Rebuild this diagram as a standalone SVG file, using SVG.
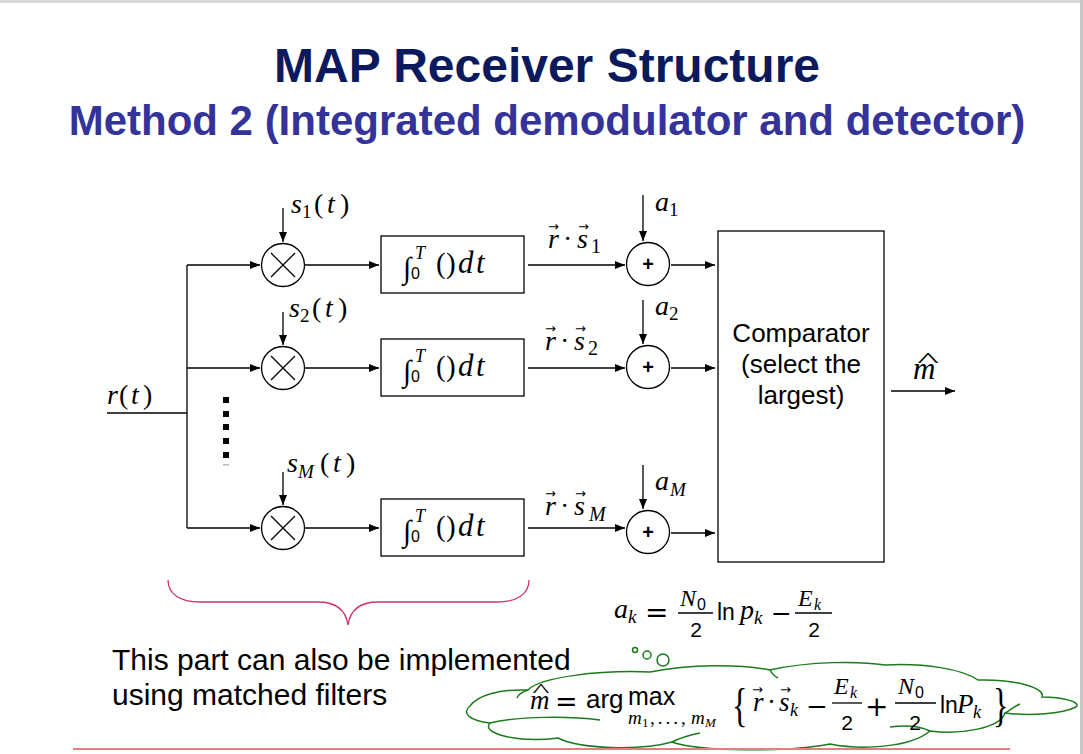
<svg xmlns="http://www.w3.org/2000/svg" width="1083" height="754" viewBox="0 0 1083 754">
  <style>
    .sans{font-family:"Liberation Sans",Arial,sans-serif}
    .it{font-family:"Liberation Serif","Times New Roman",serif;font-style:italic}
    .rm{font-family:"Liberation Serif","Times New Roman",serif;font-style:normal}
    .op{font-family:"DejaVu Serif",serif;font-style:normal}
    .vec{font-family:"DejaVu Sans",sans-serif;font-size:13px}
    .hat{font-family:"Liberation Serif","Times New Roman",serif;text-anchor:middle}
    .ln{stroke:#000;stroke-width:1.3;fill:none}
    .arr{marker-end:url(#ah)}
    .blk{fill:#fff;stroke:#000;stroke-width:1.3}
    .plus{font-family:"Liberation Sans",Arial,sans-serif;font-size:20px;font-weight:bold;text-anchor:middle}
  </style>
  <defs>
    <marker id="ah" viewBox="0 0 10 8" refX="10" refY="4" markerWidth="10" markerHeight="8" markerUnits="userSpaceOnUse" orient="auto">
      <path d="M0,0 L10,4 L0,8 z" fill="#000"/>
    </marker>
  </defs>

  <!-- page -->
  <rect x="0" y="0" width="1083" height="754" fill="#fff"/>
  <rect x="0" y="0" width="1083" height="3" fill="#d9d9d9"/>
  <rect x="1080" y="0" width="3" height="754" fill="#c8c8c8"/>

  <!-- titles -->
  <text class="sans" x="547" y="82" font-size="48" font-weight="bold" fill="#0b1a5c" text-anchor="middle">MAP Receiver Structure</text>
  <text class="sans" x="547" y="135" font-size="42" font-weight="bold" fill="#333399" text-anchor="middle">Method 2 (Integrated demodulator and detector)</text>

  <!-- connectors -->
  <g id="connectors">
    <path class="ln" d="M107,413 H187"/>
    <path class="ln" d="M187,265 V528" stroke="#333"/>
    <path class="ln arr" d="M187,265 H260"/>
    <path class="ln arr" d="M187,368 H260"/>
    <path class="ln arr" d="M187,528 H260"/>
    <path class="ln arr" d="M283,208 V242"/>
    <path class="ln arr" d="M283,312 V345"/>
    <path class="ln arr" d="M283,472 V505"/>
    <path class="ln arr" d="M305,265 H379"/>
    <path class="ln arr" d="M305,368 H379"/>
    <path class="ln arr" d="M305,528 H379"/>
    <path class="ln arr" d="M528,265 H625"/>
    <path class="ln arr" d="M528,368 H625"/>
    <path class="ln arr" d="M528,528 H625"/>
    <path class="ln arr" d="M643,195 V241"/>
    <path class="ln arr" d="M643,300 V344"/>
    <path class="ln arr" d="M643,465 V509"/>
    <path class="ln arr" d="M671,265 H715"/>
    <path class="ln arr" d="M671,368 H715"/>
    <path class="ln arr" d="M671,533 H715"/>
    <path class="ln arr" d="M891,391 H955"/>
  </g>

  <!-- input signal -->
  <g id="input">
    <text y="404" font-size="28"><tspan class="it" x="107">r</tspan><tspan class="rm" x="119">(</tspan><tspan class="it" x="131">t</tspan><tspan class="rm" x="143">)</tspan></text>
    <g fill="#000">
      <rect x="223" y="397" width="6" height="6"/>
      <rect x="223" y="411" width="6" height="6"/>
      <rect x="223" y="424" width="6" height="6"/>
      <rect x="223" y="438" width="6" height="6"/>
      <rect x="223" y="452" width="6" height="6"/>
    </g>
    <rect x="223" y="464" width="6" height="1.5" fill="#bbb"/>
  </g>

  <!-- multipliers -->
  <g id="mult1">
    <circle class="blk" cx="283" cy="265" r="21.5"/>
    <path class="ln" d="M271,253 L295,277 M295,253 L271,277"/>
    <text y="213" font-size="28"><tspan class="it" x="291">s</tspan><tspan class="rm" font-size="19" x="302" y="218">1</tspan><tspan class="rm" x="314" y="213">(</tspan><tspan class="it" x="327">t</tspan><tspan class="rm" x="340">)</tspan></text>
  </g>
  <g id="mult2">
    <circle class="blk" cx="283" cy="368" r="21.5"/>
    <path class="ln" d="M271,356 L295,380 M295,356 L271,380"/>
    <text y="317" font-size="28"><tspan class="it" x="289">s</tspan><tspan class="rm" font-size="19" x="300" y="322">2</tspan><tspan class="rm" x="312" y="317">(</tspan><tspan class="it" x="325">t</tspan><tspan class="rm" x="338">)</tspan></text>
  </g>
  <g id="multM">
    <circle class="blk" cx="283" cy="528" r="21.5"/>
    <path class="ln" d="M271,516 L295,540 M295,516 L271,540"/>
    <text y="472" font-size="28"><tspan class="it" x="287">s</tspan><tspan class="it" font-size="19" x="298" y="478">M</tspan><tspan class="rm" x="320" y="472">(</tspan><tspan class="it" x="333">t</tspan><tspan class="rm" x="346">)</tspan></text>
  </g>

  <!-- integrators -->
  <g id="int1">
    <rect class="blk" x="381" y="236" width="143" height="57"/>
    <text class="rm" x="403" y="278" font-size="30">∫</text>
    <text class="sans" x="411" y="279" font-size="16">0</text>
    <text class="it" x="415" y="259" font-size="18">T</text>
    <text class="rm" x="436" y="273" font-size="29">(</text>
    <text class="rm" x="446" y="273" font-size="29">)</text>
    <text class="it" x="458" y="273" font-size="31">d</text>
    <text class="it" x="476" y="273" font-size="31">t</text>
  </g>
  <g id="int2">
    <rect class="blk" x="381" y="339" width="143" height="57"/>
    <text class="rm" x="403" y="381" font-size="30">∫</text>
    <text class="sans" x="411" y="382" font-size="16">0</text>
    <text class="it" x="415" y="362" font-size="18">T</text>
    <text class="rm" x="436" y="376" font-size="29">(</text>
    <text class="rm" x="446" y="376" font-size="29">)</text>
    <text class="it" x="458" y="376" font-size="31">d</text>
    <text class="it" x="476" y="376" font-size="31">t</text>
  </g>
  <g id="intM">
    <rect class="blk" x="381" y="499" width="143" height="57"/>
    <text class="rm" x="403" y="541" font-size="30">∫</text>
    <text class="sans" x="411" y="542" font-size="16">0</text>
    <text class="it" x="415" y="522" font-size="18">T</text>
    <text class="rm" x="436" y="536" font-size="29">(</text>
    <text class="rm" x="446" y="536" font-size="29">)</text>
    <text class="it" x="458" y="536" font-size="31">d</text>
    <text class="it" x="476" y="536" font-size="31">t</text>
  </g>

  <!-- correlator outputs -->
  <g id="lbl1">
    <text y="248" font-size="28"><tspan class="it" x="548">r</tspan><tspan class="rm" x="563">·</tspan><tspan class="it" x="577">s</tspan><tspan class="rm" x="591" y="253" font-size="20">1</tspan></text>
    <text class="vec" x="548" y="231">→</text>
    <text class="vec" x="578" y="231">→</text>
  </g>
  <g id="lbl2">
    <text y="350" font-size="28"><tspan class="it" x="545">r</tspan><tspan class="rm" x="560">·</tspan><tspan class="it" x="574">s</tspan><tspan class="rm" x="588" y="355" font-size="20">2</tspan></text>
    <text class="vec" x="545" y="333">→</text>
    <text class="vec" x="575" y="333">→</text>
  </g>
  <g id="lblM">
    <text y="515" font-size="28"><tspan class="it" x="545">r</tspan><tspan class="rm" x="560">·</tspan><tspan class="it" x="574">s</tspan><tspan class="it" x="589" y="521" font-size="20">M</tspan></text>
    <text class="vec" x="545" y="498">→</text>
    <text class="vec" x="575" y="498">→</text>
  </g>

  <!-- adders -->
  <g id="add1">
    <circle class="blk" cx="648" cy="264" r="21.5"/>
    <text class="plus" x="648" y="271">+</text>
    <text y="211" font-size="28"><tspan class="it" x="655">a</tspan><tspan class="rm" font-size="19" x="669" y="216">1</tspan></text>
  </g>
  <g id="add2">
    <circle class="blk" cx="648" cy="367" r="21.5"/>
    <text class="plus" x="648" y="374">+</text>
    <text y="315" font-size="28"><tspan class="it" x="655">a</tspan><tspan class="rm" font-size="19" x="669" y="320">2</tspan></text>
  </g>
  <g id="addM">
    <circle class="blk" cx="648" cy="532" r="21.5"/>
    <text class="plus" x="648" y="539">+</text>
    <text y="490" font-size="28"><tspan class="it" x="655">a</tspan><tspan class="it" font-size="19" x="670" y="496">M</tspan></text>
  </g>

  <!-- decision block -->
  <g id="comparator">
    <rect class="blk" x="718" y="231" width="166" height="331"/>
    <text class="sans" x="801" y="342" font-size="26" text-anchor="middle">Comparator</text>
    <text class="sans" x="801" y="373" font-size="26" text-anchor="middle">(select the</text>
    <text class="sans" x="801" y="404" font-size="26" text-anchor="middle">largest)</text>
  </g>
  <g id="output">
    <text class="it" x="913" y="379" font-size="31">m</text>
    <text class="hat" x="928" y="367" font-size="20" transform="translate(928,0) scale(2.3,1) translate(-928,0)">^</text>
  </g>

  <!-- bias definition -->
  <g id="bias">
    <text y="618" font-size="28"><tspan class="it" x="614">a</tspan><tspan class="it" font-size="19" x="628" y="623">k</tspan></text>
    <text class="op" x="645" y="622" font-size="28">=</text>
    <text y="606" font-size="24"><tspan class="it" x="680">N</tspan><tspan class="sans" font-size="16" x="697" y="610">0</tspan></text>
    <path class="ln" d="M678,613 H713"/>
    <text class="sans" x="696" y="637" font-size="21" text-anchor="middle">2</text>
    <text class="sans" x="717" y="620" font-size="23">ln</text>
    <text y="619" font-size="28"><tspan class="it" x="740">p</tspan><tspan class="it" font-size="19" x="754" y="624">k</tspan></text>
    <text class="op" x="771" y="622" font-size="25">−</text>
    <text y="606" font-size="24"><tspan class="it" x="798">E</tspan><tspan class="it" font-size="16" x="814" y="610">k</tspan></text>
    <path class="ln" d="M795,613 H832"/>
    <text class="sans" x="814" y="637" font-size="21" text-anchor="middle">2</text>
  </g>

  <!-- correlator bank brace -->
  <g id="brace">
    <path d="M168,580 C168,594 180,602 200,602 L318,602 C338,602 346,611 348,625 C350,611 358,602 378,602 L497,602 C517,602 529,594 529,580" fill="none" stroke="#cc3370" stroke-width="1.3"/>
  </g>
  <g id="note">
    <text class="sans" x="112" y="670" font-size="30">This part can also be implemented</text>
    <text class="sans" x="112" y="705" font-size="30">using matched filters</text>
  </g>

  <!-- decision rule callout -->
  <g id="callout" fill="#fff" stroke="#1c7a1c" stroke-width="1.5">
    <circle cx="635" cy="650" r="2.5"/>
    <circle cx="647" cy="655" r="4"/>
    <circle cx="663" cy="660" r="6"/>
    <path d="M470,706 C478,695 500,689 528,690 C540,677 600,670 650,672 C690,664 740,664 770,670 C810,661 860,661 885,665 C925,663 962,669 978,680 C1015,679 1046,688 1042,697 C1062,697 1082,702 1076,707 C1062,714 1030,716 1005,713 C1000,728 962,735 930,731 C910,748 860,750 830,744 C790,752 700,752 672,742 C640,751 580,749 558,738 C520,743 480,734 490,723 C470,721 461,713 470,706 Z"/>
    <path d="M528,690 C522,692 518,695 517,698" fill="none"/>
    <path d="M490,723 C520,716 570,716 600,720" fill="none"/>
    <path d="M672,742 C680,738 690,735 700,733" fill="none"/>
    <path d="M930,731 C920,726 905,725 890,727" fill="none"/>
    <path d="M1005,713 C1010,710 1015,706 1020,704" fill="none"/>
    <path d="M770,670 C772,674 774,676 778,678" fill="none"/>
  </g>
  <g id="rule">
    <text class="it" x="530" y="709" font-size="27">m</text>
    <text class="hat" x="541" y="697" font-size="18" transform="translate(541,0) scale(2,1) translate(-541,0)">^</text>
    <text class="op" x="555" y="711" font-size="27">=</text>
    <text class="sans" x="586" y="708" font-size="26">arg</text>
    <text class="sans" x="628" y="705" font-size="25">max</text>
    <text y="724" font-size="19"><tspan class="it" x="628">m</tspan><tspan class="rm" font-size="13" x="642" y="727">1</tspan><tspan class="rm" x="650" y="724" letter-spacing="3">,...,</tspan><tspan class="it" x="691">m</tspan><tspan class="it" font-size="13" x="705" y="727">M</tspan></text>
    <text class="rm" x="732" y="721" font-size="46" transform="translate(732,0) scale(0.7,1) translate(-732,0)">{</text>
    <text y="711" font-size="27"><tspan class="it" x="753">r</tspan><tspan class="rm" x="767">·</tspan><tspan class="it" x="779">s</tspan><tspan class="it" x="790" y="716" font-size="18">k</tspan></text>
    <text class="vec" x="752" y="694">→</text>
    <text class="vec" x="780" y="694">→</text>
    <text class="op" x="806" y="715" font-size="26">−</text>
    <text y="694" font-size="24"><tspan class="it" x="834">E</tspan><tspan class="it" font-size="16" x="850" y="698">k</tspan></text>
    <path class="ln" d="M832,703 H862"/>
    <text class="sans" x="847" y="730" font-size="21" text-anchor="middle">2</text>
    <text class="op" x="865" y="716" font-size="28">+</text>
    <text y="694" font-size="24"><tspan class="it" x="898">N</tspan><tspan class="sans" font-size="16" x="915" y="698">0</tspan></text>
    <path class="ln" d="M895,703 H936"/>
    <text class="sans" x="915" y="730" font-size="21" text-anchor="middle">2</text>
    <text class="sans" x="940" y="713" font-size="23">ln</text>
    <text y="713" font-size="27"><tspan class="it" x="957">P</tspan><tspan class="it" x="973" y="718" font-size="18">k</tspan></text>
    <text class="rm" x="993" y="721" font-size="46" transform="translate(993,0) scale(0.7,1) translate(-993,0)">}</text>
  </g>

  <!-- footer rule -->
  <path d="M73,749 H1010" stroke="#e08080" stroke-width="2"/>
</svg>
